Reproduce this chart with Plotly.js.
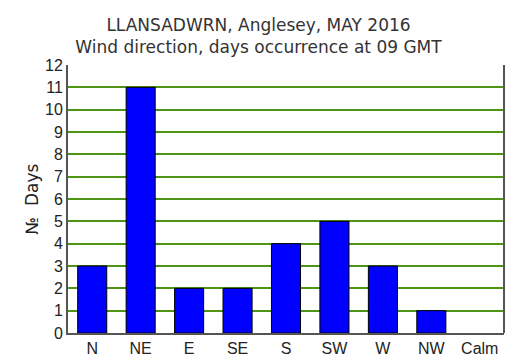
<!DOCTYPE html>
<html><head><meta charset="utf-8">
<script src="https://cdn.plot.ly/plotly-3.0.1.min.js"></script>
<style>html,body{margin:0;padding:0;background:#fff}</style>
</head><body><div id="chart" style="width:517px;height:363px"></div>
<script>
const categories = ["N","NE","E","SE","S","SW","W","NW","Calm"];
const days = [3,11,2,2,4,5,3,1,0];
const yTicks = [0,1,2,3,4,5,6,7,8,9,10,11,12];

const trace = {
  type: "bar", x: categories, y: days,
  marker: {color: "#0000ff", line: {color: "#000", width: days.map(v => v > 0 ? 1 : 0)}},
  hoverinfo: "none"
};
const layout = {
  width: 517, height: 363,
  margin: {l: 68, r: 13, t: 65, b: 30},
  paper_bgcolor: "#fff", plot_bgcolor: "#fff",
  bargap: 0.4,
  showlegend: false,
  title: {text: "LLANSADWRN, Anglesey, MAY 2016<br>Wind direction, days occurrence at 09 GMT",
    font: {family: "DejaVu Sans", size: 17, color: "#333"}, x: 0.5, xanchor: "center",
    yref: "container", y: 1 - 31/363, yanchor: "middle"},
  xaxis: {type: "category", showgrid: false, showline: true, linecolor: "#555", linewidth: 2,
    ticks: "", tickfont: {family: "Liberation Sans", size: 16, color: "#222"}, fixedrange: true},
  yaxis: {range: [0, 12], tickvals: yTicks, ticktext: yTicks.map(String),
    showgrid: true, gridcolor: "#4f9415", gridwidth: 2, zeroline: false,
    showline: true, linecolor: "#555", linewidth: 2, ticks: "",
    tickfont: {family: "Liberation Sans", size: 16, color: "#222"},
    title: {text: "№\u00a0 Days", font: {family: "DejaVu Sans", size: 17, color: "#222"}, standoff: 2},
    fixedrange: true},
  shapes: [{type: "line", xref: "paper", yref: "paper", x0: 1, x1: 1, y0: 0, y1: 1,
    line: {color: "#555", width: 2}}]
};
Plotly.newPlot("chart", [trace], layout, {staticPlot: true});
</script></body></html>
